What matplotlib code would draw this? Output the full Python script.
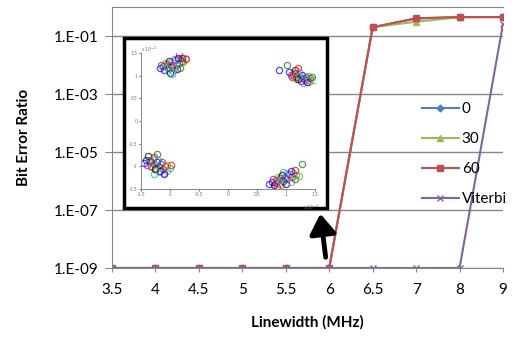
import numpy as np
import matplotlib
matplotlib.use("Agg")
import matplotlib.pyplot as plt
from matplotlib.patches import Rectangle, FancyArrowPatch

plt.rcParams['font.family'] = ['Lato', 'DejaVu Sans']

# main chart data
linewidth = ['3.5', '4', '4.5', '5', '5.5', '6', '6.5', '7', '8', '9']
ber_0 = [1e-9, 1e-9, 1e-9, 1e-9, 1e-9, 1e-9, 0.20, 0.40, 0.45, 0.45]
ber_30 = [1e-9, 1e-9, 1e-9, 1e-9, 1e-9, 1e-9, 0.20, 0.31, 0.44, 0.45]
ber_60 = [1e-9, 1e-9, 1e-9, 1e-9, 1e-9, 1e-9, 0.20, 0.41, 0.45, 0.45]
ber_viterbi = [1e-9, 1e-9, 1e-9, 1e-9, 1e-9, 1e-9, 1e-9, 1e-9, 1e-9, 0.26]
yticks = [1e-9, 1e-7, 1e-5, 1e-3, 1e-1]
ytick_labels = ['1.E-09', '1.E-07', '1.E-05', '1.E-03', '1.E-01']

# inset constellation (x 1e-3)
tl_x = [-1.18, -1.12, -1.05, -0.98, -0.92, -0.86, -0.80, -0.75, -1.10, -1.03,
        -0.96, -0.90, -0.84, -0.78, -1.00, -0.94, -0.88, -0.82, -0.85, -0.97,
        -1.15, -1.08, -1.01, -0.93, -0.87, -0.79, -0.72, -1.06, -0.99, -0.91]
tl_y = [1.18, 1.22, 1.26, 1.30, 1.34, 1.36, 1.38, 1.40, 1.12, 1.16,
        1.20, 1.24, 1.28, 1.30, 1.06, 1.10, 1.14, 1.18, 1.48, 1.03,
        1.24, 1.28, 1.33, 1.36, 1.40, 1.33, 1.36, 1.20, 1.23, 1.17]
tr_x = [1.05, 1.12, 1.18, 1.25, 1.32, 1.40, 1.15, 1.22, 1.28, 1.35,
        1.42, 1.48, 1.10, 1.18, 1.25, 1.30, 0.88, 1.02, 1.20, 1.38,
        1.08, 1.14, 1.21, 1.28, 1.36, 1.44, 1.16, 1.23, 1.31, 1.40]
tr_y = [1.08, 1.03, 0.98, 0.94, 0.90, 0.86, 1.12, 1.07, 1.02, 0.98,
        0.94, 0.90, 0.98, 0.93, 0.88, 0.84, 1.12, 1.24, 1.18, 1.00,
        1.02, 0.98, 0.93, 0.88, 0.85, 0.96, 1.05, 1.00, 0.94, 0.91]
bl_x = [-1.42, -1.35, -1.28, -1.20, -1.12, -1.05, -1.38, -1.30, -1.22, -1.15,
        -1.08, -1.00, -1.32, -1.25, -1.18, -1.10, -1.45, -1.22, -0.98, -1.28,
        -1.40, -1.33, -1.26, -1.19, -1.11, -1.34, -1.27, -1.20, -1.13, -1.06]
bl_y = [-0.85, -0.90, -0.95, -1.00, -1.05, -1.10, -0.78, -0.84, -0.90, -0.95,
        -1.00, -1.04, -1.00, -1.05, -1.10, -1.14, -0.92, -0.72, -0.98, -1.18,
        -0.96, -1.01, -1.06, -1.12, -1.16, -0.86, -0.80, -0.86, -0.91, -0.96]
br_x = [0.75, 0.82, 0.90, 0.98, 1.05, 1.12, 0.80, 0.88, 0.95, 1.02,
        1.10, 1.18, 0.85, 0.92, 1.00, 1.08, 0.70, 1.28, 1.15, 0.95,
        0.78, 0.86, 0.93, 1.01, 1.09, 1.16, 0.83, 0.91, 0.99, 1.22]
br_y = [-1.35, -1.30, -1.26, -1.22, -1.18, -1.14, -1.42, -1.38, -1.33, -1.28,
        -1.24, -1.20, -1.46, -1.42, -1.38, -1.34, -1.40, -0.95, -1.08, -1.12,
        -1.28, -1.24, -1.19, -1.15, -1.11, -1.28, -1.36, -1.31, -1.26, -1.22]
inset_ticks = [-1.5, -1, -0.5, 0, 0.5, 1, 1.5]
inset_tick_labels = ['-1.5', '-1', '-0.5', '0', '0.5', '1', '1.5']

W, H = 514, 340
fig = plt.figure(figsize=(W / 100, H / 100), dpi=100)
ax = fig.add_axes([112 / W, 1 - 268 / H, (503 - 112) / W, (268 - 7) / H])

xpos = np.arange(len(linewidth))
grey = '#868686'
ax.plot(xpos, ber_0, color='#4F81BD', marker='D', markersize=3.5, lw=1.5, label='0')
ax.plot(xpos, ber_30, color='#9BBB59', marker='^', markersize=4, lw=1.5, label='30')
ax.plot(xpos, ber_60, color='#C0504D', marker='s', markersize=4, lw=1.5, label='60')
ax.plot(xpos, ber_viterbi, color='#8064A2', marker='x', markersize=4, mew=1, lw=1.5, label='Viterbi')

ax.set_yscale('log')
ax.set_ylim(1e-9, 1)
ax.set_xlim(0, len(linewidth) - 1)
ax.set_yticks(yticks)
ax.set_yticklabels(ytick_labels)
ax.minorticks_off()
ax.set_xticks(xpos)
ax.set_xticklabels(linewidth)
ax.tick_params(axis='both', labelsize=11, color=grey)
ax.tick_params(axis='y', length=5, pad=5)
ax.tick_params(axis='x', length=3, pad=8)
ax.grid(axis='y', color=grey, lw=1)
ax.set_axisbelow(True)
for s in ['left', 'bottom', 'top']:
    ax.spines[s].set_color(grey)
ax.spines['right'].set_visible(False)
ax.set_xlabel('Linewidth (MHz)', fontsize=11, fontweight='bold', labelpad=13)
ax.set_ylabel('Bit Error Ratio', fontsize=11, fontweight='bold', labelpad=16)

ax.legend(loc='upper left', bbox_to_anchor=(304 / 391, 0.66), frameon=False,
          fontsize=11, handlelength=2.4, labelspacing=1.05, handletextpad=0.2,
          borderaxespad=0)

# inset frame
fig.patches.append(Rectangle((124 / W, 1 - 208 / H), (327 - 124) / W, (208 - 38) / H,
                             transform=fig.transFigure, facecolor='white',
                             edgecolor='black', lw=2.5, zorder=5))
axi = fig.add_axes([141 / W, 1 - 189 / H, (315 - 141) / W, (189 - 53) / H], zorder=6)
axi.patch.set_alpha(0)
colors = ['b', 'g', 'r', 'c', 'm', '#999900', 'k', '#8080ff']
for xs, ys in [(tl_x, tl_y), (tr_x, tr_y), (bl_x, bl_y), (br_x, br_y)]:
    for i in range(len(xs)):
        axi.plot(xs[i], ys[i], 'o', mfc='none', mec=colors[i % len(colors)],
                 ms=4.5, mew=0.9, alpha=0.7)
axi.set_xlim(-1.5, 1.5)
axi.set_ylim(-1.5, 1.5)
axi.set_xticks(inset_ticks)
axi.set_xticklabels(inset_tick_labels)
axi.set_yticks(inset_ticks)
axi.set_yticklabels(inset_tick_labels)
axi.tick_params(labelsize=3.5, length=1.5, pad=1, colors='#777777')
for s in ['top', 'right']:
    axi.spines[s].set_visible(False)
for s in ['left', 'bottom']:
    axi.spines[s].set_color('#888888')
    axi.spines[s].set_linewidth(0.7)
axi.text(0, 1.01, r'x 10$^{-3}$', transform=axi.transAxes, fontsize=3.5, color='#777777')
axi.text(0.93, -0.15, r'x 10$^{-3}$', transform=axi.transAxes, fontsize=3.5, color='#777777')

# arrow
fig.add_artist(FancyArrowPatch(
    (326 / W, 1 - 260 / H), (320 / W, 1 - 211 / H), transform=fig.transFigure,
    arrowstyle='-|>,head_width=4,head_length=6', color='black', lw=3.5,
    mutation_scale=2, zorder=7))

fig.savefig('out.png', dpi=100)
